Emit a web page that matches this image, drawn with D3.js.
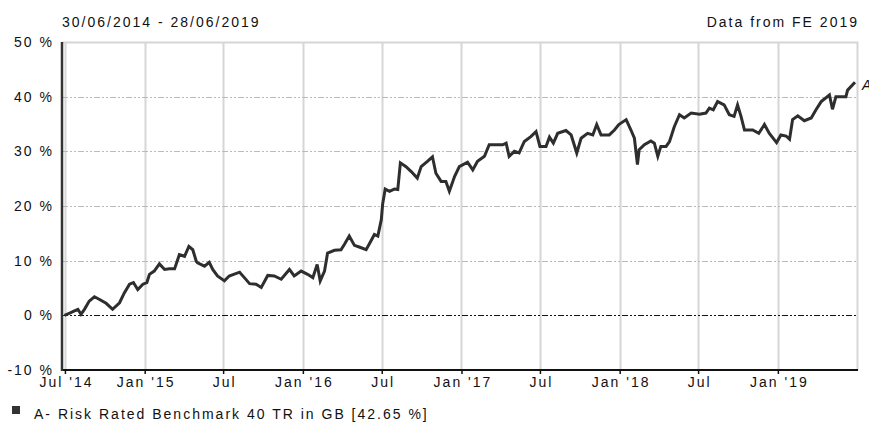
<!DOCTYPE html>
<html>
<head>
<meta charset="utf-8">
<script src="https://cdn.jsdelivr.net/npm/d3@7"></script>
<style>
  body { margin: 0; background: #fff; }
  text { font-family: "Liberation Sans", Arial, sans-serif; fill: #111; letter-spacing: 2px; }
</style>
</head>
<body>
<div id="chart"></div>
<script>
// Series A - Risk Rated Benchmark 40 TR in GB, cumulative % growth
const dates = [
  "2014-06-30","2014-07-12","2014-07-23","2014-07-31","2014-08-07","2014-08-15","2014-08-26","2014-09-07",
  "2014-09-19","2014-10-04","2014-10-19","2014-11-04","2014-11-15","2014-11-27","2014-12-06","2014-12-16",
  "2014-12-28","2015-01-06","2015-01-12","2015-01-23","2015-02-04","2015-02-16","2015-02-27","2015-03-11",
  "2015-03-22","2015-04-03","2015-04-13","2015-04-22","2015-04-30","2015-05-03","2015-05-19","2015-05-30",
  "2015-06-07","2015-06-18","2015-07-04","2015-07-15","2015-08-08","2015-08-19","2015-08-31","2015-09-15",
  "2015-09-27","2015-10-12","2015-10-27","2015-11-12","2015-12-01","2015-12-12","2015-12-28","2016-01-12",
  "2016-01-24","2016-02-03","2016-02-10","2016-02-20","2016-02-27","2016-03-14","2016-03-29","2016-04-06",
  "2016-04-17","2016-04-29","2016-05-10","2016-05-26","2016-06-06","2016-06-14","2016-06-22","2016-06-30",
  "2016-07-03","2016-07-09","2016-07-19","2016-07-30","2016-08-07","2016-08-13","2016-08-26","2016-09-07",
  "2016-09-21","2016-09-30","2016-10-15","2016-10-26","2016-11-03","2016-11-15","2016-11-26","2016-12-04",
  "2016-12-16","2016-12-27","2017-01-15","2017-01-27","2017-02-07","2017-02-23","2017-03-06","2017-03-22",
  "2017-04-06","2017-04-14","2017-04-21","2017-05-03","2017-05-14","2017-05-26","2017-06-10","2017-06-22",
  "2017-07-01","2017-07-15","2017-07-23","2017-08-01","2017-08-11","2017-08-30","2017-09-11","2017-09-24",
  "2017-10-04","2017-10-19","2017-10-31","2017-11-09","2017-11-19","2017-12-08","2017-12-20","2017-12-30",
  "2018-01-16","2018-01-27","2018-02-04","2018-02-11","2018-02-15","2018-02-27","2018-03-14","2018-03-22",
  "2018-03-30","2018-04-06","2018-04-18","2018-04-26","2018-05-07","2018-05-19","2018-05-30","2018-06-15",
  "2018-07-04","2018-07-19","2018-07-27","2018-08-05","2018-08-15","2018-08-30","2018-09-11","2018-09-22",
  "2018-09-30","2018-10-08","2018-10-16","2018-11-04","2018-11-18","2018-12-01","2018-12-12","2018-12-29",
  "2019-01-08","2019-01-20","2019-01-28","2019-02-04","2019-02-16","2019-03-03","2019-03-19","2019-03-30",
  "2019-04-11","2019-04-30","2019-05-07","2019-05-15","2019-06-07","2019-06-11","2019-06-28"
];
const values = [
  0.0, 0.4, 0.8, 1.1, 0.2, 1.1, 2.6, 3.4,
  2.9, 2.2, 1.1, 2.3, 4.1, 5.7, 6.0, 4.7,
  5.7, 6.0, 7.5, 8.1, 9.4, 8.4, 8.5, 8.5,
  11.1, 10.8, 12.6, 12.0, 9.9, 9.6, 9.0, 9.7,
  8.4, 7.2, 6.3, 7.2, 7.9, 6.9, 5.8, 5.7,
  5.1, 7.3, 7.2, 6.6, 8.4, 7.2, 8.1, 7.5,
  6.9, 9.3, 6.3, 8.1, 11.4, 11.9, 12.0, 13.0,
  14.5, 12.8, 12.5, 12.0, 13.6, 14.8, 14.5, 17.5,
  20.3, 23.1, 22.7, 23.1, 23.0, 27.9, 27.2, 26.3,
  25.1, 27.2, 28.2, 29.0, 26.0, 24.5, 24.5, 22.7,
  25.4, 27.2, 28.0, 26.6, 28.2, 29.1, 31.2, 31.2,
  31.2, 31.5, 29.1, 30.0, 29.7, 31.8, 32.7, 33.6,
  30.9, 30.9, 32.6, 31.5, 33.3, 33.8, 33.0, 29.7,
  32.4, 33.3, 33.0, 34.9, 33.0, 33.0, 33.9, 34.9,
  35.8, 33.9, 32.4, 27.6, 30.3, 31.2, 31.9, 31.5,
  29.1, 30.9, 30.9, 31.8, 34.5, 36.7, 36.1, 37.0,
  36.8, 37.0, 37.9, 37.6, 39.1, 38.5, 36.7, 36.4,
  38.5, 36.4, 33.9, 33.9, 33.3, 34.9, 33.3, 31.6,
  33.0, 32.8, 32.2, 35.8, 36.5, 35.6, 36.1, 37.6,
  39.1, 40.3, 37.7, 40.0, 40.0, 41.2, 42.65
];
const yTicks = [-10, 0, 10, 20, 30, 40, 50];
const periodLabel = "30/06/2014 - 28/06/2019";
const sourceLabel = "Data from FE 2019";
const seriesLabel = "A- Risk Rated Benchmark 40 TR in GB [42.65 %]";
const seriesKey = "A";

const W = 869, H = 425;
const mLeft = 62, mRight = 857, mTop = 42, mBottom = 370;
const parse = d3.timeParse("%Y-%m-%d");
const data = dates.map((d, i) => ({ date: parse(d), value: values[i] }));

const svg = d3.select("#chart").append("svg")
  .attr("width", W).attr("height", H);

const x = d3.scaleTime()
  .domain([parse("2014-06-30"), parse("2019-06-28")])
  .range([mLeft + 2.5, mRight - 2]);

const y = d3.scaleLinear()
  .domain([-10, 50])
  .range([mBottom, mTop]);

// vertical gridlines every 6 months
const xTicks = d3.timeMonth.every(6).range(parse("2014-07-01"), parse("2019-02-01"));
svg.append("g").selectAll("line")
  .data(xTicks)
  .enter().append("line")
  .attr("x1", d => Math.round(x(d)) + 0.5).attr("x2", d => Math.round(x(d)) + 0.5)
  .attr("y1", mTop).attr("y2", mBottom)
  .attr("stroke", "#d6d6d6").attr("stroke-width", 2);

// horizontal gridlines
svg.append("g").selectAll("line")
  .data(yTicks.filter(v => v > -10 && v < 50 && v !== 0))
  .enter().append("line")
  .attr("x1", mLeft).attr("x2", mRight)
  .attr("y1", d => Math.round(y(d)) + 0.5).attr("y2", d => Math.round(y(d)) + 0.5)
  .attr("stroke", "#bbb").attr("stroke-width", 1)
  .attr("stroke-dasharray", "6,2,2,2,2,2");

// frame top/right
svg.append("path")
  .attr("d", `M${mLeft},${mTop + 0.5}H${mRight + 0.5}V${mBottom}`)
  .attr("fill", "none").attr("stroke", "#d6d6d6").attr("stroke-width", 2);

// zero line
svg.append("line")
  .attr("x1", mLeft).attr("x2", mRight)
  .attr("y1", Math.round(y(0)) + 0.5).attr("y2", Math.round(y(0)) + 0.5)
  .attr("stroke", "#111").attr("stroke-width", 1)
  .attr("stroke-dasharray", "6,2,2,2,2,2");

// axes
const xAxis = svg.append("g")
  .attr("transform", `translate(0,${mBottom})`)
  .call(d3.axisBottom(x).tickValues(xTicks).tickSize(4)
    .tickFormat((d, i) => {
      const m = d.getMonth();
      if (i === 0) return "Jul '" + d3.timeFormat("%y")(d);
      return m === 0 ? "Jan '" + d3.timeFormat("%y")(d) : "Jul";
    }));
xAxis.select(".domain").remove();
xAxis.selectAll(".tick line").attr("stroke", "#111").attr("stroke-width", 1.5);
xAxis.selectAll(".tick text").attr("dy", 0).attr("y", 17).attr("dx", 1)
  .style("font-size", "14px").style("font-family", "Liberation Sans, Arial, sans-serif")
  .style("letter-spacing", "2px");

svg.append("line")
  .attr("x1", mLeft - 1).attr("x2", mRight + 1)
  .attr("y1", mBottom).attr("y2", mBottom)
  .attr("stroke", "#111").attr("stroke-width", 2);
svg.append("line")
  .attr("x1", mLeft).attr("x2", mLeft)
  .attr("y1", mTop).attr("y2", mBottom + 1)
  .attr("stroke", "#333").attr("stroke-width", 2.5);

const yAxis = svg.append("g")
  .attr("transform", `translate(${mLeft},0)`)
  .call(d3.axisLeft(y).tickValues(yTicks).tickSize(0).tickPadding(8)
    .tickFormat(d => d + " %"));
yAxis.select(".domain").remove();
yAxis.selectAll(".tick text")
  .style("font-size", "14px").style("font-family", "Liberation Sans, Arial, sans-serif")
  .style("letter-spacing", "2px");

// series line
const line = d3.line()
  .x(d => x(d.date))
  .y(d => y(d.value));
svg.append("path")
  .datum(data)
  .attr("d", line)
  .attr("fill", "none")
  .attr("stroke", "#2e2e2e")
  .attr("stroke-width", 3)
  .attr("stroke-linejoin", "miter");

// end key
const last = data[data.length - 1];
svg.append("text")
  .attr("x", x(last.date) + 7).attr("y", y(last.value) + 8)
  .style("font-size", "14px").style("font-style", "italic")
  .text(seriesKey);

// header
svg.append("text").attr("x", mLeft).attr("y", 27)
  .style("font-size", "14px").text(periodLabel);
svg.append("text").attr("x", mRight + 2).attr("y", 27)
  .attr("text-anchor", "end")
  .style("font-size", "14px").text(sourceLabel);

// legend
svg.append("rect").attr("x", 12).attr("y", 406).attr("width", 8).attr("height", 8)
  .attr("fill", "#333");
svg.append("text").attr("x", 34).attr("y", 419)
  .style("font-size", "14px").text(seriesLabel);
</script>
</body>
</html>
